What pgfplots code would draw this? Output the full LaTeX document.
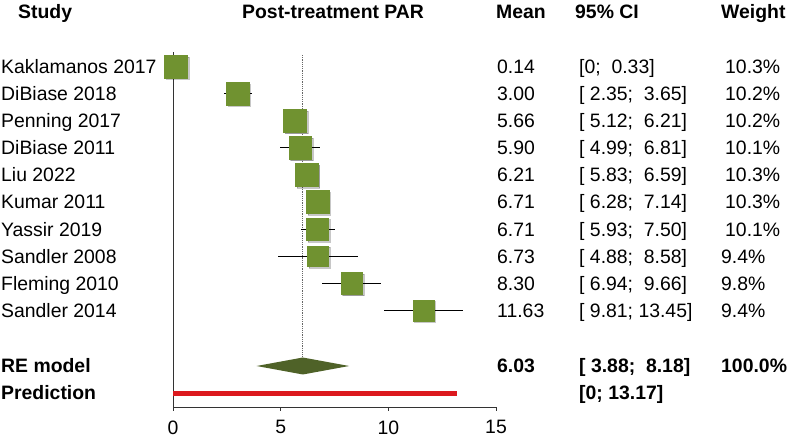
\documentclass[border=0pt]{standalone}
\usepackage{pgfplots}
\usepackage{pgfplotstable}
\usepackage{fontspec}
\setmainfont{Liberation Sans}
\pgfplotsset{compat=1.18}

\definecolor{sqgreen}{RGB}{112,146,48}
\definecolor{diamond}{RGB}{79,98,40}
\definecolor{predred}{RGB}{220,25,30}

% y = row position in pt from the bottom of the picture
\pgfplotstableread{
y     m     lo    hi    w
376.5 0.14  0     0.33  10.3
349.4 3.00  2.35  3.65  10.2
322.3 5.66  5.12  6.21  10.2
295.2 5.90  4.99  6.81  10.1
268.1 6.21  5.83  6.59  10.3
241.0 6.71  6.28  7.14  10.3
213.9 6.71  5.93  7.50  10.1
186.8 6.73  4.88  8.58  9.4
159.7 8.30  6.94  9.66  9.8
132.6 11.63 9.81  13.45 9.4
}\studies

% square marks sized by weight; #1 = colours of the mark
\pgfplotsset{sq/.style={scatter, only marks, mark=square*,
    scatter/use mapped color={#1},
    visualization depends on={1.1*\thisrow{w} \as \msize},
    scatter/@pre marker code/.append style={/tikz/mark size=\msize pt}}}

\newcommand{\fs}{\fontsize{19.4}{23}\selectfont}

\begin{document}
\begin{tikzpicture}[font=\fs]
\begin{axis}[
    at={(173pt,36pt)}, anchor=south west,
    scale only axis, width=323pt, height=355pt,
    xmin=0, xmax=15, ymin=36, ymax=391,
    axis lines*=left,
    xtick={0,5,10,15}, ytick=\empty,
    xtick align=outside, major tick length=4pt,
    tick style={black!80, line width=0.8pt},
    axis line style={black!80, line width=0.8pt},
    clip=false,
    /pgf/number format/assume math mode=true,
    ticklabel style={font=\fs},
    xticklabel style={yshift=-6pt},
]
% pooled estimate reference line
\addplot[densely dotted, black!60, line width=1.2pt] coordinates {(6.03,388) (6.03,86)};
% confidence intervals
\addplot[only marks, mark=none,
    error bars/.cd, x dir=both, x explicit, error mark=none,
    error bar style={black, line width=0.9pt}]
    table[x=m, y=y, x error plus expr=\thisrow{hi}-\thisrow{m},
          x error minus expr=\thisrow{m}-\thisrow{lo}] \studies;
% shadows and squares
\addplot[sq={draw=none, fill=black},
    mark options={xshift=1.6pt, yshift=-1.6pt, opacity=0.22}]
    table[x=m, y=y] \studies;
\addplot[sq={draw=sqgreen, fill=sqgreen}]
    table[x=m, y=y] \studies;
% RE model diamond
\addplot[fill=diamond, draw=none] coordinates {(3.88,77) (6.03,85.5) (8.18,77) (6.03,68.5)} -- cycle;
% prediction interval
\addplot[predred, line width=5pt] coordinates {(0,49) (13.17,49)};
\end{axis}

\begin{scope}[every node/.style={inner sep=0pt, anchor=base west}]
% headers
\node[font=\fs\bfseries] at (18pt,424pt) {Study};
\node[font=\fs\bfseries] at (242pt,424pt) {Post-treatment PAR};
\node[font=\fs\bfseries] at (496pt,424pt) {Mean};
\node[font=\fs\bfseries] at (575pt,424pt) {95\% CI};
\node[font=\fs\bfseries] at (721pt,424pt) {Weight};
% studies
\foreach \yy/\st/\mn/\ci/\wt/\wx in {
  376.5/Kaklamanos 2017/0.14/{[0;\ \ 0.33]}/10.3\%/725,
  349.4/DiBiase 2018/3.00/{[\ 2.35;\ \ 3.65]}/10.2\%/725,
  322.3/Penning 2017/5.66/{[\ 5.12;\ \ 6.21]}/10.2\%/725,
  295.2/DiBiase 2011/5.90/{[\ 4.99;\ \ 6.81]}/10.1\%/725,
  268.1/Liu 2022/6.21/{[\ 5.83;\ \ 6.59]}/10.3\%/725,
  241.0/Kumar 2011/6.71/{[\ 6.28;\ \ 7.14]}/10.3\%/725,
  213.9/Yassir 2019/6.71/{[\ 5.93;\ \ 7.50]}/10.1\%/725,
  186.8/Sandler 2008/6.73/{[\ 4.88;\ \ 8.58]}/9.4\%/721,
  159.7/Fleming 2010/8.30/{[\ 6.94;\ \ 9.66]}/9.8\%/721,
  132.6/Sandler 2014/11.63/{[\ 9.81; 13.45]}/9.4\%/721}{
  \node at (1pt,\yy pt-7pt) {\st};
  \node at (497pt,\yy pt-7pt) {\mn};
  \node at (579pt,\yy pt-7pt) {\ci};
  \node at (\wx pt,\yy pt-7pt) {\wt};
}
% summary rows
\node[font=\fs\bfseries] at (1pt,70pt) {RE model};
\node[font=\fs\bfseries] at (497pt,70pt) {6.03};
\node[font=\fs\bfseries] at (579pt,70pt) {[\ 3.88;\ \ 8.18]};
\node[font=\fs\bfseries] at (721pt,70pt) {100.0\%};
\node[font=\fs\bfseries] at (1pt,43pt) {Prediction};
\node[font=\fs\bfseries] at (579pt,43pt) {[0; 13.17]};
\end{scope}

\pgfresetboundingbox
\path[use as bounding box] (0,0) rectangle (794pt,443pt);
\end{tikzpicture}
\end{document}
